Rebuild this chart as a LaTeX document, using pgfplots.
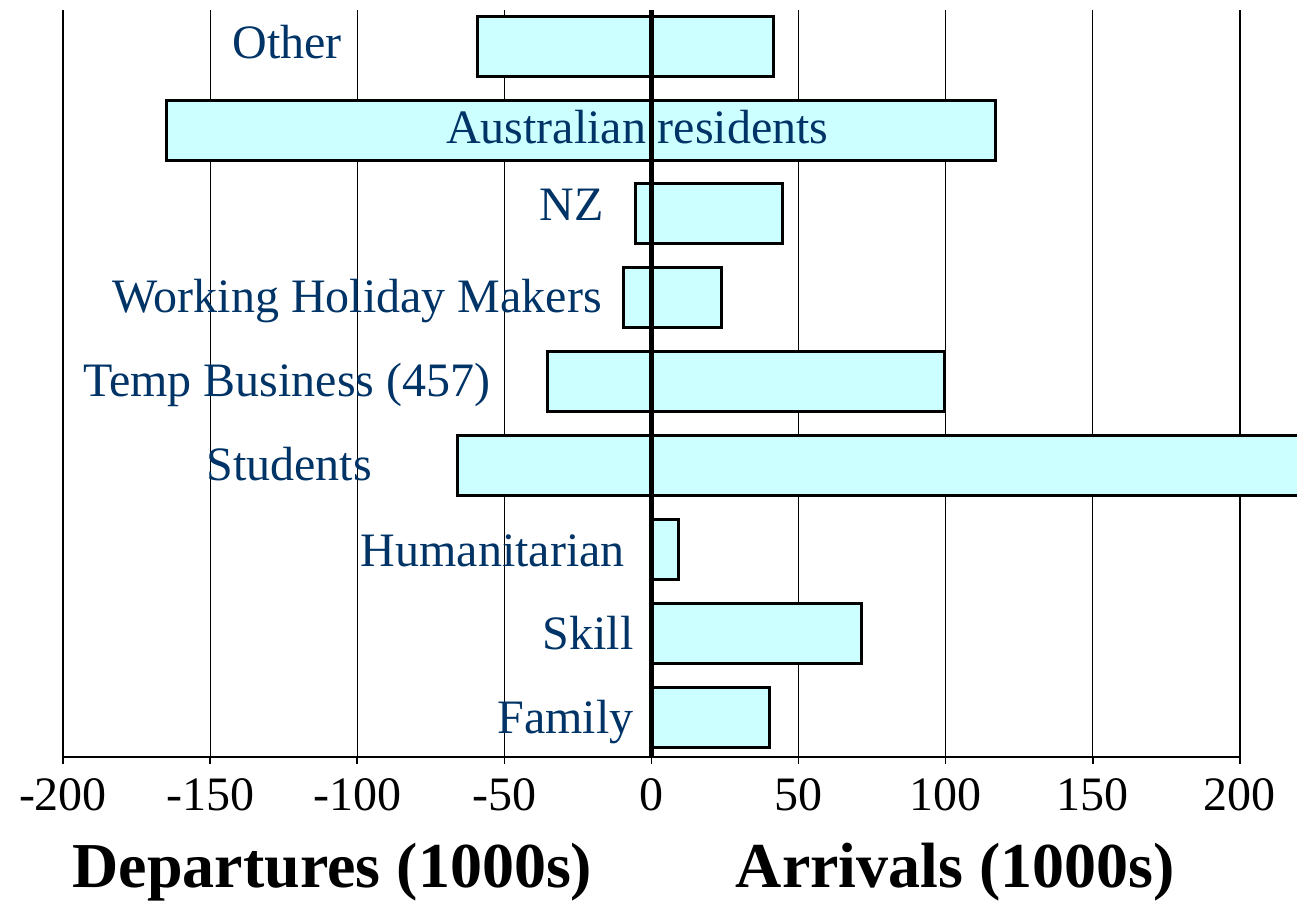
\documentclass[border=0pt]{standalone}
\usepackage{pgfplots}
\pgfplotsset{compat=1.18}
\usepackage{fontspec}
\setmainfont{Liberation Serif}
\definecolor{barfill}{HTML}{CCFFFF}
\definecolor{lab}{HTML}{003366}
\begin{document}
\begin{tikzpicture}
\begin{axis}[
  name=ax,
  scale only axis,
  width=308.5pt, height=186.75pt,
  xmin=-200, xmax=219.4, ymin=-0.47, ymax=8.43,
  clip=false,
  axis line style={draw=none},
  xtick={-200,-150,...,200},
  ytick=\empty,
  xtick pos=bottom,
  tick align=outside,
  major tick length=1.75pt,
  tick style={black, line width=0.4pt},
  xmajorgrids,
  grid style={black, line width=0.3pt},
  ticklabel style={font=\fontsize{12}{14}\selectfont},
  /pgf/number format/assume math mode=true,
]
% departures
\addplot[xbar, bar width=15pt, bar shift=0pt, fill=barfill, draw=black, line width=0.75pt]
  coordinates {(-59.1,8) (-164.7,7) (-5.4,6) (-9.5,5) (-35.3,4) (-65.9,3)};
% arrivals
\addplot[xbar, bar width=15pt, bar shift=0pt, fill=barfill, draw=black, line width=0.75pt]
  coordinates {(41.6,8) (116.9,7) (44.5,6) (23.8,5) (99.5,4) (240,3) (9.2,2) (71.4,1) (40.0,0)};
% bottom axis line
\addplot[black, line width=0.4pt, forget plot] coordinates {(-200,-0.47) (200,-0.47)};

\tikzset{catlab/.style={anchor=base east, inner sep=0pt, text=lab, font=\fontsize{12}{14}\selectfont}}
\node[catlab, yshift=-3pt] at (axis cs:-105,8) {Other};
\node[catlab, anchor=base, yshift=-3.25pt] at (axis cs:-4.8,7) {Australian residents};
\node[catlab, yshift=-1.6pt] at (axis cs:-16,6) {NZ};
\node[catlab, yshift=-3.75pt] at (axis cs:-16.6,5) {Working Holiday Makers};
\node[catlab, yshift=-3.75pt] at (axis cs:-54.4,4) {Temp Business (457)};
\node[catlab, yshift=-3.75pt] at (axis cs:-94.8,3) {Students};
\node[catlab, yshift=-4.2pt] at (axis cs:-8.8,2) {Humanitarian};
\node[catlab, yshift=-3.9pt] at (axis cs:-5.8,1) {Skill};
\node[catlab, yshift=-3.9pt] at (axis cs:-5.8,0) {Family};

\node[anchor=base, inner sep=0pt, font=\bfseries\fontsize{16}{19}\selectfont, yshift=-32.5pt] at (axis cs:-108.4,-0.47) {Departures (1000s)};
\node[anchor=base, inner sep=0pt, font=\bfseries\fontsize{16}{19}\selectfont, yshift=-32.5pt] at (axis cs:103.3,-0.47) {Arrivals (1000s)};

% zero line
\addplot[black, line width=1.4pt, forget plot] coordinates {(0,-0.47) (0,8.43)};
\end{axis}
\pgfresetboundingbox
\path (ax.south west) ++(-15.75pt,-36.25pt) rectangle ++(324.25pt,225.5pt);
\end{tikzpicture}
\end{document}
